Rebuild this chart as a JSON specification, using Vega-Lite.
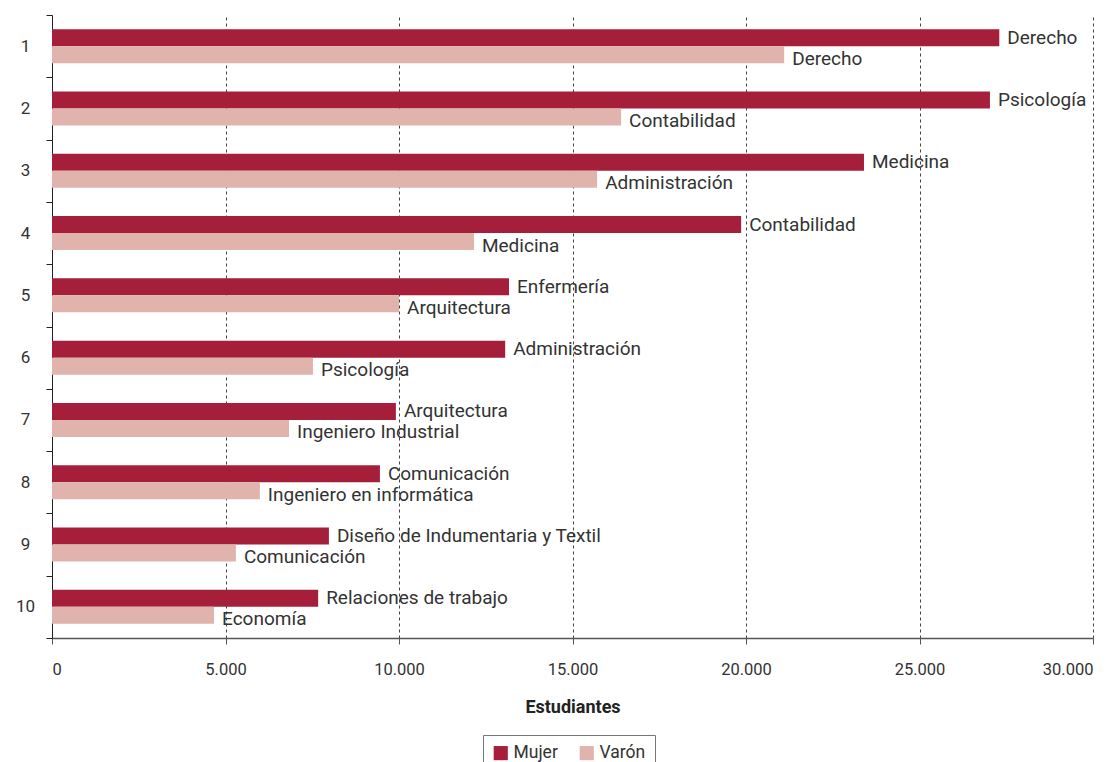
{
  "$schema": "https://vega.github.io/schema/vega-lite/v6.json",
  "width": 1041,
  "height": 623,
  "autosize": {"type": "none"},
  "padding": {"left": 52, "top": 15, "right": 27, "bottom": 124},
  "background": "white",
  "config": {
    "locale": {"number": {"decimal": ",", "thousands": ".", "grouping": [3], "currency": ["", " €"]}},
    "font": "Roboto",
    "view": {"stroke": null},
    "axis": {"labelFont": "Roboto", "titleFont": "Roboto", "labelColor": "#333", "titleColor": "#222"},
    "legend": {"labelFont": "Roboto"}
  },
  "data": {
    "values": [
      {"rank": "1", "sexo": "Mujer", "valor": 27300, "carrera": "Derecho"},
      {"rank": "1", "sexo": "Varón", "valor": 21100, "carrera": "Derecho"},
      {"rank": "2", "sexo": "Mujer", "valor": 27030, "carrera": "Psicología"},
      {"rank": "2", "sexo": "Varón", "valor": 16400, "carrera": "Contabilidad"},
      {"rank": "3", "sexo": "Mujer", "valor": 23400, "carrera": "Medicina"},
      {"rank": "3", "sexo": "Varón", "valor": 15710, "carrera": "Administración"},
      {"rank": "4", "sexo": "Mujer", "valor": 19860, "carrera": "Contabilidad"},
      {"rank": "4", "sexo": "Varón", "valor": 12160, "carrera": "Medicina"},
      {"rank": "5", "sexo": "Mujer", "valor": 13170, "carrera": "Enfermería"},
      {"rank": "5", "sexo": "Varón", "valor": 10000, "carrera": "Arquitectura"},
      {"rank": "6", "sexo": "Mujer", "valor": 13060, "carrera": "Administración"},
      {"rank": "6", "sexo": "Varón", "valor": 7520, "carrera": "Psicología"},
      {"rank": "7", "sexo": "Mujer", "valor": 9910, "carrera": "Arquitectura"},
      {"rank": "7", "sexo": "Varón", "valor": 6830, "carrera": "Ingeniero Industrial"},
      {"rank": "8", "sexo": "Mujer", "valor": 9450, "carrera": "Comunicación"},
      {"rank": "8", "sexo": "Varón", "valor": 5990, "carrera": "Ingeniero en informática"},
      {"rank": "9", "sexo": "Mujer", "valor": 7980, "carrera": "Diseño de Indumentaria y Textil"},
      {"rank": "9", "sexo": "Varón", "valor": 5300, "carrera": "Comunicación"},
      {"rank": "10", "sexo": "Mujer", "valor": 7670, "carrera": "Relaciones de trabajo"},
      {"rank": "10", "sexo": "Varón", "valor": 4670, "carrera": "Economía"}
    ]
  },
  "encoding": {
    "y": {
      "field": "rank",
      "type": "nominal",
      "sort": ["1", "2", "3", "4", "5", "6", "7", "8", "9", "10"],
      "scale": {"paddingInner": 0, "paddingOuter": 0},
      "axis": {
        "title": null,
        "tickBand": "extent",
        "labelFontSize": 17,
        "labelPadding": 21,
        "labelAlign": "center",
        "tickSize": 6,
        "domainColor": "#222",
        "tickColor": "#222",
        "labelAngle": 0
      }
    },
    "yOffset": {
      "field": "sexo",
      "type": "nominal",
      "sort": ["Mujer", "Varón"],
      "scale": {"paddingOuter": 0.83, "paddingInner": 0}
    },
    "x": {
      "field": "valor",
      "type": "quantitative",
      "scale": {"domain": [0, 30000], "nice": false},
      "axis": {
        "title": "Estudiantes",
        "titleFontSize": 18,
        "titleFontWeight": "bold",
        "titlePadding": 21,
        "format": ",d",
        "values": [0, 5000, 10000, 15000, 20000, 25000, 30000],
        "labelFontSize": 16.5,
        "labelPadding": 17,
        "grid": true,
        "gridDash": [3, 3],
        "gridColor": "#444",
        "gridWidth": 1,
        "domainColor": "#555",
        "domainWidth": 1.5,
        "tickColor": "#555",
        "tickSize": 6
      }
    }
  },
  "layer": [
    {
      "mark": {"type": "bar"},
      "encoding": {
        "color": {
          "field": "sexo",
          "type": "nominal",
          "scale": {"domain": ["Mujer", "Varón"], "range": ["#a51e3a", "#e0b3ad"]},
          "legend": {
            "title": null,
            "orient": "none",
            "legendX": 431,
            "legendY": 720,
            "direction": "horizontal",
            "symbolType": "square",
            "symbolSize": 200,
            "symbolStrokeWidth": 0,
            "labelFontSize": 17.5,
            "labelColor": "#333",
            "strokeColor": "#777",
            "padding": 9,
            "columnPadding": 20
          }
        }
      }
    },
    {
      "transform": [{"filter": "datum.sexo === 'Mujer'"}],
      "mark": {"type": "text", "align": "left", "baseline": "middle", "dx": 8, "dy": 0, "fontSize": 19, "color": "#333"},
      "encoding": {"text": {"field": "carrera", "type": "nominal"}}
    },
    {
      "transform": [{"filter": "datum.sexo === 'Varón'"}],
      "mark": {"type": "text", "align": "left", "baseline": "middle", "dx": 8, "dy": 4, "fontSize": 19, "color": "#333"},
      "encoding": {"text": {"field": "carrera", "type": "nominal"}}
    }
  ]
}
